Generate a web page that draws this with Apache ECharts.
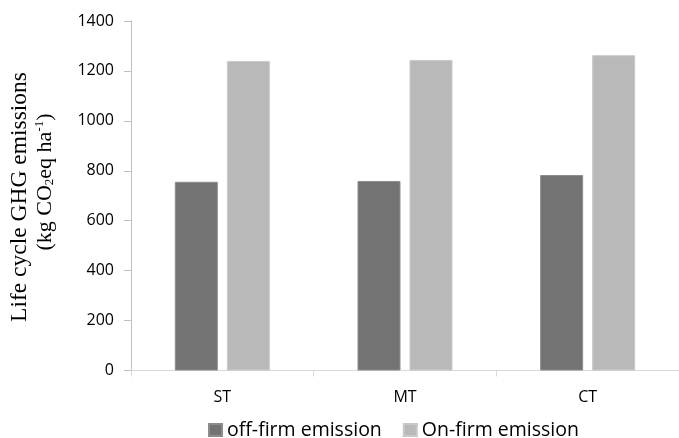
<!DOCTYPE html>
<html>
<head>
<meta charset="utf-8">
<script src="https://cdn.jsdelivr.net/npm/echarts@6/dist/echarts.min.js"></script>
<style>
html,body{margin:0;padding:0;background:#fff;}
#chart{width:679px;height:438px;}
</style>
</head>
<body>
<div id="chart"></div>
<script>
const categories = ['ST', 'MT', 'CT'];
const offFirm = [756, 759, 783];
const onFirm = [1240, 1244, 1263];
const yTicks = { min: 0, max: 1400, interval: 200 };
const seriesNames = ['off-firm emission', 'On-firm emission'];

const FONT = '"Open Sans", sans-serif';
const chart = echarts.init(document.getElementById('chart'), null, { renderer: 'canvas' });
chart.setOption({
  animation: false,
  backgroundColor: '#ffffff',
  grid: { left: 131, right: -7, top: 21, bottom: 67.5, containLabel: false },
  legend: {
    data: seriesNames,
    left: 203, top: 415,
    itemWidth: 13, itemHeight: 12, itemGap: 21,
    textStyle: { fontFamily: FONT, fontSize: 19.5, color: '#000' },
    icon: 'rect'
  },
  xAxis: {
    type: 'category',
    data: categories,
    axisLine: { lineStyle: { color: '#d9d9d9', width: 1 } },
    axisTick: { show: true, length: 6, lineStyle: { color: '#d9d9d9' } },
    axisLabel: { fontFamily: FONT, fontSize: 16, color: '#000', margin: 19 }
  },
  yAxis: {
    type: 'value',
    min: yTicks.min, max: yTicks.max, interval: yTicks.interval,
    splitLine: { show: false },
    axisLine: { show: true, lineStyle: { color: '#bfbfbf' } },
    axisTick: { show: true, length: 7, lineStyle: { color: '#bfbfbf' } },
    axisLabel: { fontFamily: FONT, fontSize: 16, color: '#000', margin: 17, formatter: v => String(v) }
  },
  series: [
    {
      name: seriesNames[0], type: 'bar', data: offFirm,
      barWidth: 43, barGap: '21%',
      itemStyle: { color: '#737373', borderColor: '#8c8c8c', borderWidth: 1 }
    },
    {
      name: seriesNames[1], type: 'bar', data: onFirm,
      barWidth: 43, barGap: '21%',
      itemStyle: { color: '#b9b9b9', borderColor: '#c9c9c9', borderWidth: 1 }
    }
  ],
  graphic: [
    {
      type: 'text', x: 20, y: 197, rotation: Math.PI / 2,
      style: {
        text: 'Life cycle GHG emissions',
        font: '23.5px "Liberation Serif", "Times New Roman", serif',
        fill: '#000', align: 'center', verticalAlign: 'middle'
      }
    },
    {
      type: 'text', x: 45, y: 182, rotation: Math.PI / 2,
      style: {
        text: '(kg CO{sub|2}eq ha{sup|-1})',
        font: '22px "Liberation Serif", "Times New Roman", serif',
        fill: '#000', align: 'center', verticalAlign: 'middle',
        rich: {
          sub: { fontFamily: '"Liberation Serif", serif', fontSize: 13, padding: [10, 0, 0, 0], verticalAlign: 'bottom' },
          sup: { fontFamily: '"Liberation Serif", serif', fontSize: 13, padding: [0, 0, 10, 0], verticalAlign: 'top' }
        }
      }
    }
  ]
});
</script>
</body>
</html>
